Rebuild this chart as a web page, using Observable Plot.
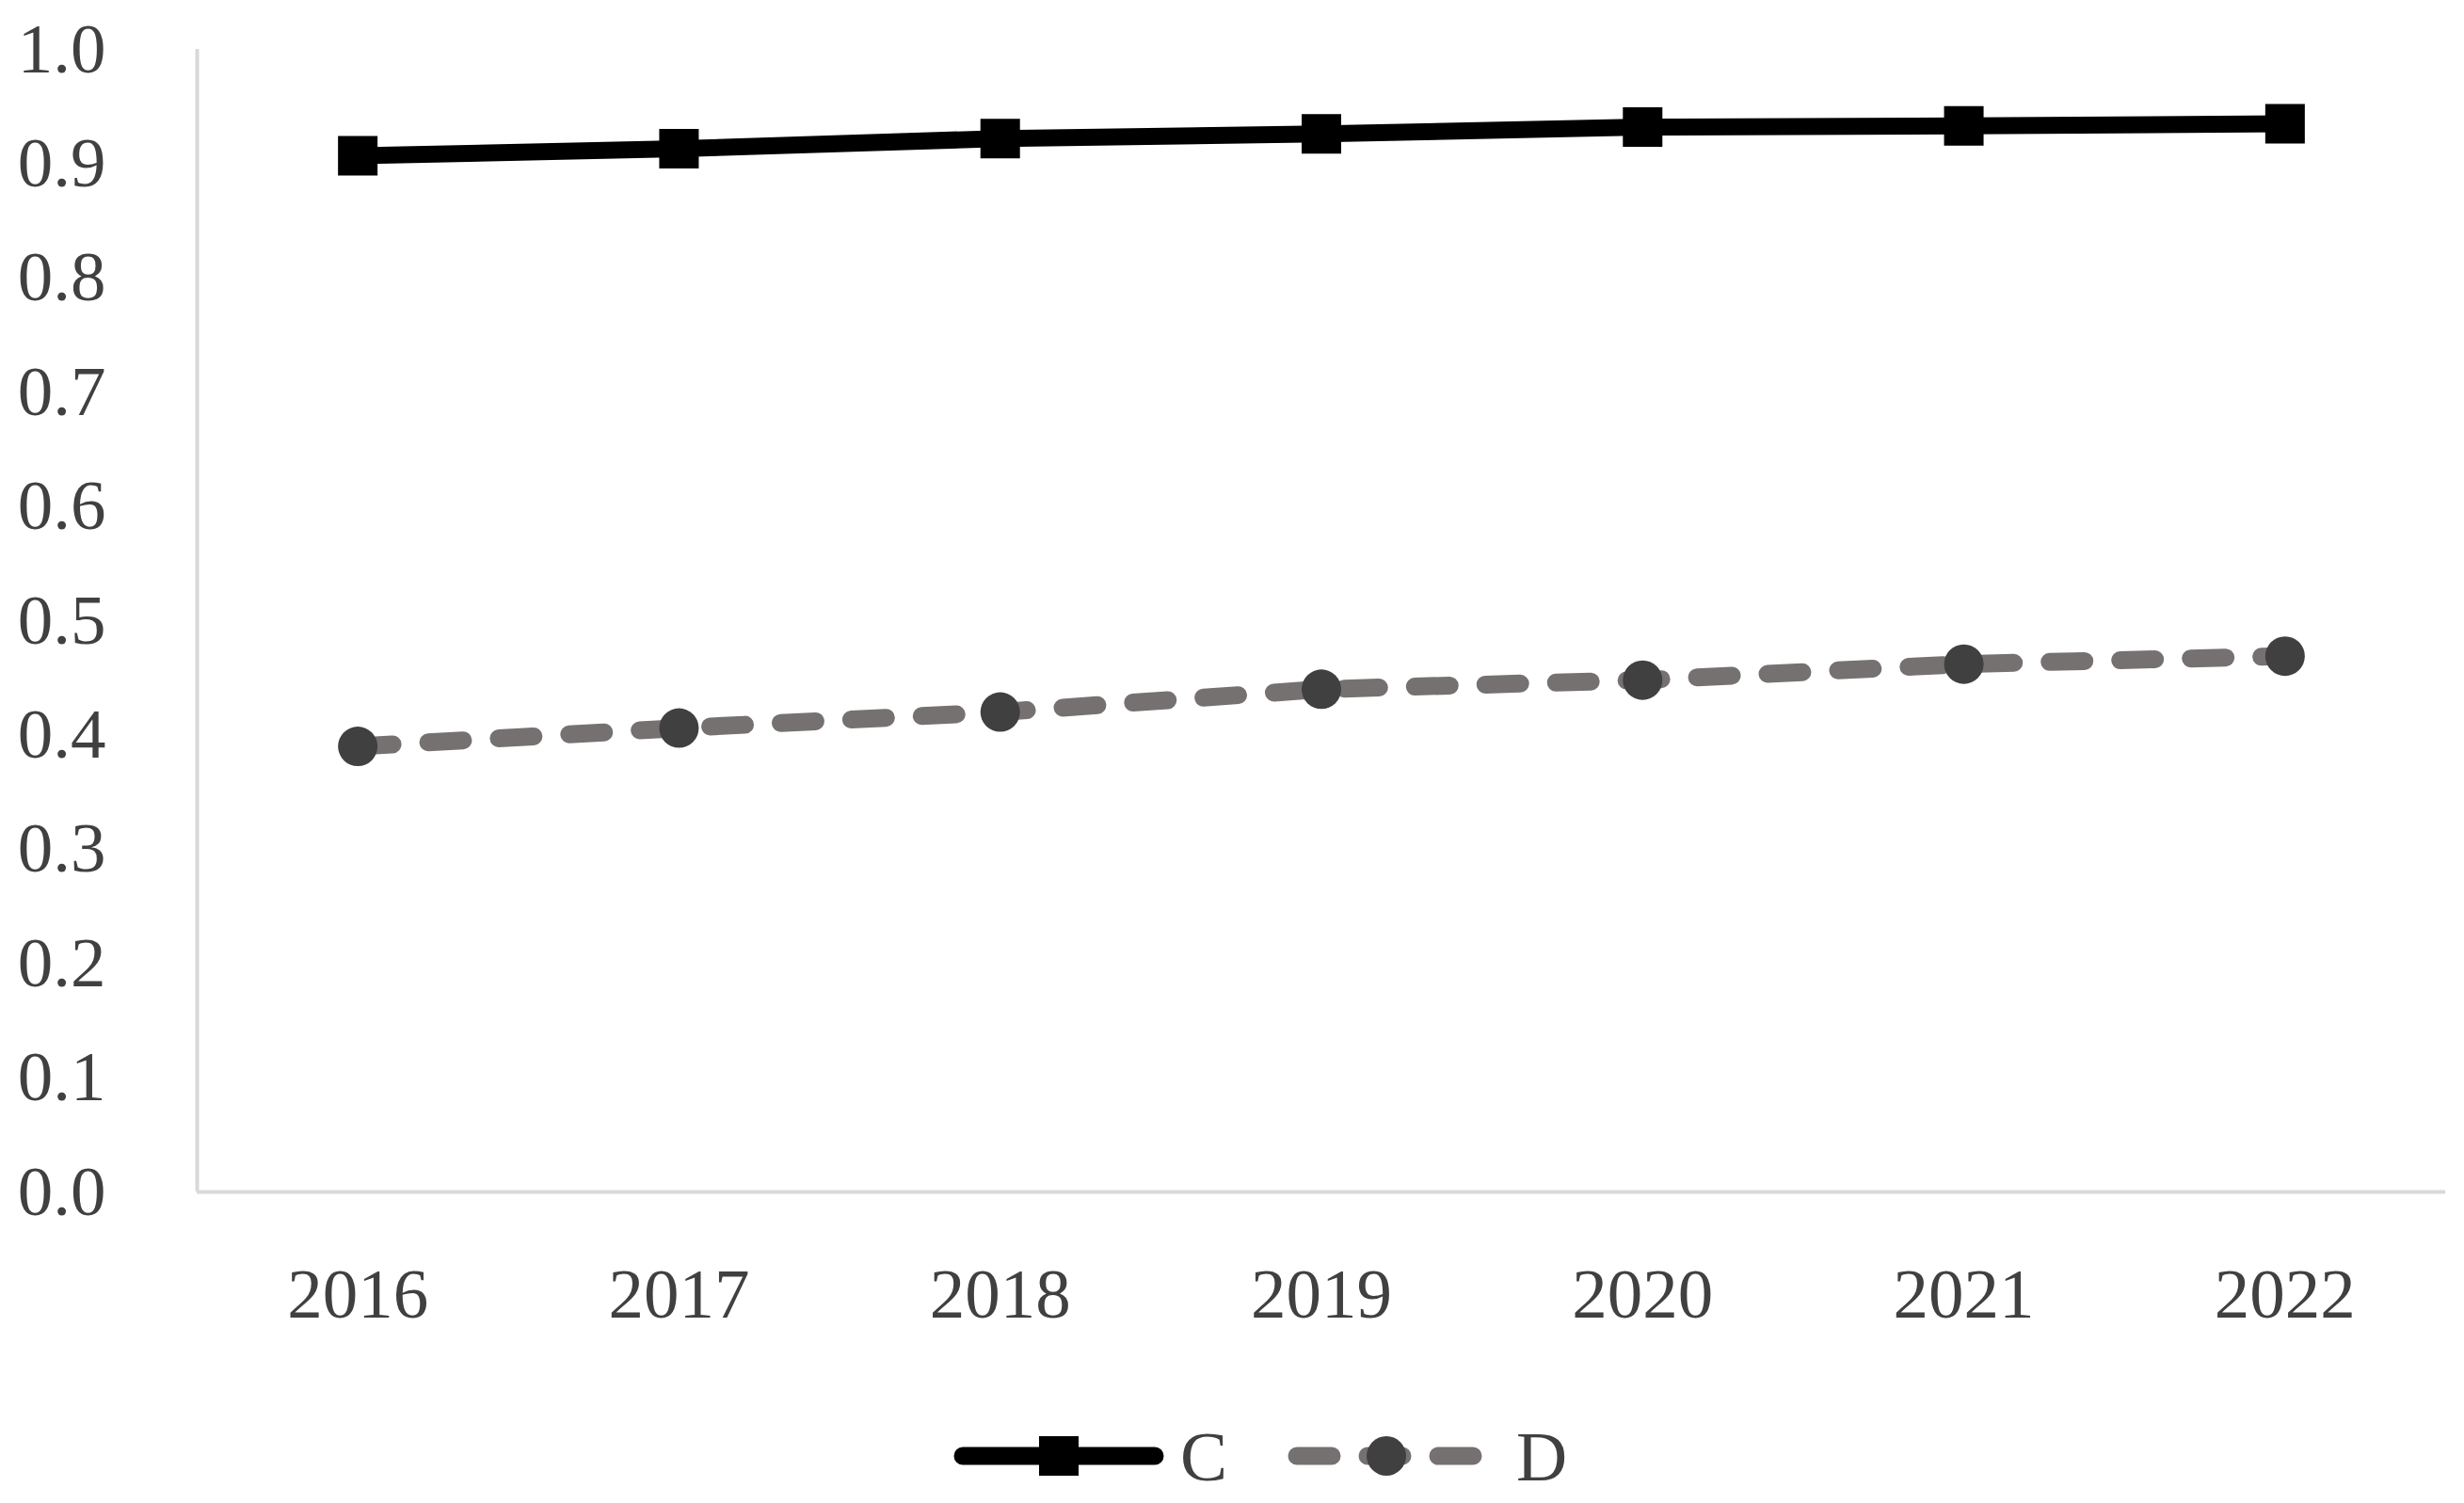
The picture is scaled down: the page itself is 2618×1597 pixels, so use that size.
<!DOCTYPE html>
<html>
<head>
<meta charset="utf-8">
<script src="https://cdn.jsdelivr.net/npm/d3@7"></script>
<script src="https://cdn.jsdelivr.net/npm/@observablehq/plot@0.6"></script>
<style>
  html, body { margin: 0; padding: 0; background: #ffffff; }
  #wrap { position: relative; width: 2618px; height: 1597px; background: #ffffff; }
  #legend { display: block; }
</style>
</head>
<body>
<div id="wrap"></div>
<script>
// ---- data ----
const years = [2016, 2017, 2018, 2019, 2020, 2021, 2022];
const seriesC = [0.907, 0.913, 0.922, 0.926, 0.932, 0.933, 0.935];
const seriesD = [0.390, 0.406, 0.420, 0.440, 0.448, 0.462, 0.469];
const yTicks = [0, 0.1, 0.2, 0.3, 0.4, 0.5, 0.6, 0.7, 0.8, 0.9, 1.0];
const seriesNames = ["C", "D"];

const data = years.map((yr, i) => ({year: yr, C: seriesC[i], D: seriesD[i]}));

const FONT = "'Liberation Serif', 'DejaVu Serif', serif";
const TEXT = "#404040";
const AXIS = "#d9d9d9";
const C_COLOR = "#000000";
const D_LINE = "#767171";
const D_DOT = "#404040";

const chart = Plot.plot({
  width: 2618,
  height: 1480,
  marginTop: 52,
  marginBottom: 214,
  marginLeft: 209,
  marginRight: 20,
  style: {fontFamily: FONT, fontSize: "75px", color: TEXT, background: "#ffffff"},
  x: {type: "linear", domain: [years[0] - 0.5, years[years.length - 1] + 0.5], ticks: years,
      tickFormat: d => String(d), tickSize: 0, tickPadding: 80, label: null},
  y: {domain: [0, 1], ticks: yTicks, tickFormat: d => d.toFixed(1), tickSize: 0, tickPadding: 97, label: null},
  marks: [
    Plot.ruleY([0], {stroke: AXIS, strokeWidth: 4}),
    Plot.ruleX([years[0] - 0.5], {y1: 0, y2: 1, stroke: AXIS, strokeWidth: 4}),
    Plot.lineY(data, {x: "year", y: "D", stroke: D_LINE, strokeWidth: 19, strokeDasharray: "37,38", strokeLinecap: "round"}),
    Plot.dot(data, {x: "year", y: "D", r: 21, fill: D_DOT, stroke: null}),
    Plot.lineY(data, {x: "year", y: "C", stroke: C_COLOR, strokeWidth: 18}),
    Plot.dot(data, {x: "year", y: "C", symbol: "square", r: 23.7, fill: C_COLOR, stroke: null})
  ]
});
document.getElementById("wrap").appendChild(chart);

// ---- legend below the plot ----
const ns = "http://www.w3.org/2000/svg";
const leg = d3.create("svg")
  .attr("id", "legend")
  .attr("width", 2618)
  .attr("height", 117)
  .attr("viewBox", "0 0 2618 117");
const cy = 67;
// C item
const gC = leg.append("g");
gC.append("line").attr("x1", 1023).attr("x2", 1227).attr("y1", cy).attr("y2", cy)
  .attr("stroke", C_COLOR).attr("stroke-width", 19).attr("stroke-linecap", "round");
gC.append("rect").attr("x", 1125 - 21).attr("y", cy - 21).attr("width", 42).attr("height", 42).attr("fill", C_COLOR);
gC.append("text").attr("x", 1254).attr("y", cy).attr("dy", "0.35em")
  .attr("font-family", FONT).attr("font-size", 75).attr("fill", TEXT).text(seriesNames[0]);
// D item
const gD = leg.append("g");
gD.append("line").attr("x1", 1378).attr("x2", 1566).attr("y1", cy).attr("y2", cy)
  .attr("stroke", D_LINE).attr("stroke-width", 19).attr("stroke-linecap", "round")
  .attr("stroke-dasharray", "37,38");
gD.append("circle").attr("cx", 1473).attr("cy", cy).attr("r", 21).attr("fill", D_DOT);
gD.append("text").attr("x", 1611).attr("y", cy).attr("dy", "0.35em")
  .attr("font-family", FONT).attr("font-size", 75).attr("fill", TEXT).text(seriesNames[1]);
document.getElementById("wrap").appendChild(leg.node());
</script>
</body>
</html>
